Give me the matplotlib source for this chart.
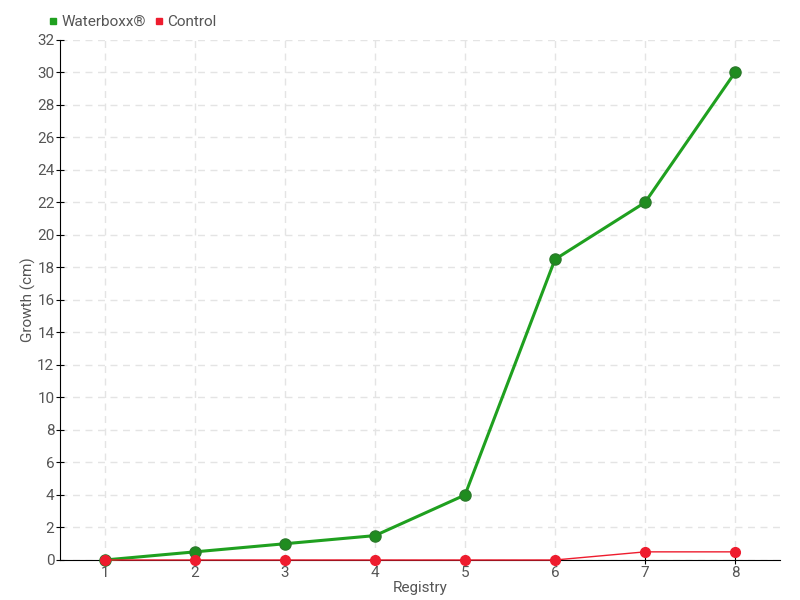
import numpy as np
import matplotlib.pyplot as plt

registry = [1, 2, 3, 4, 5, 6, 7, 8]
waterboxx = [0, 0.5, 1, 1.5, 4, 18.5, 22, 30]
control = [0, 0, 0, 0, 0, 0, 0.5, 0.5]

green = "#1fa01f"
red = "#ee1c2e"
txt = "#555555"

plt.rcParams['font.family'] = ['Roboto', 'DejaVu Sans']
fig = plt.figure(figsize=(8, 6), dpi=100)
ax = fig.add_axes([0.075, 0.0667, 0.9, 0.8667])

ax.plot(registry, waterboxx, color=green, lw=2.2, marker='o', ms=8,
        mfc="#1f8c1f", mec="#2a7a2a", label="Waterboxx®", zorder=3, clip_on=False)
ax.plot(registry, control, color=red, lw=1, marker='o', ms=7,
        mfc=red, mec=red, label="Control", zorder=4, clip_on=False)

ax.set_xlim(0.5, 8.5)
ax.set_ylim(0, 32)
ax.set_xticks(registry)
ax.set_yticks(np.arange(0, 33, 2))
ax.grid(True, color="#e4e4e4", ls=(0, (5, 4)), lw=1)
ax.set_axisbelow(True)
for s in ['top', 'right']:
    ax.spines[s].set_visible(False)
ax.tick_params(direction='inout', length=6, colors='black', labelcolor=txt, labelsize=11, pad=1)
ax.set_xlabel("Registry", color=txt, fontsize=11, labelpad=1)
ax.set_ylabel("Growth (cm)", color=txt, fontsize=11, labelpad=1)

leg = ax.legend(loc='center left', bbox_to_anchor=(-0.015, 1 + 18 / 520), ncol=2, frameon=False,
                handlelength=0.5, handletextpad=0.3, columnspacing=0.6, fontsize=11,
                markerscale=0.6, borderaxespad=0, borderpad=0)
for h, c in zip(leg.legend_handles, [green, red]):
    h.set_marker('s')
    h.set_linestyle('')
    h.set_markerfacecolor(c)
    h.set_markeredgecolor(c)
for t in leg.get_texts():
    t.set_color(txt)

fig.savefig("out.png", dpi=100)
